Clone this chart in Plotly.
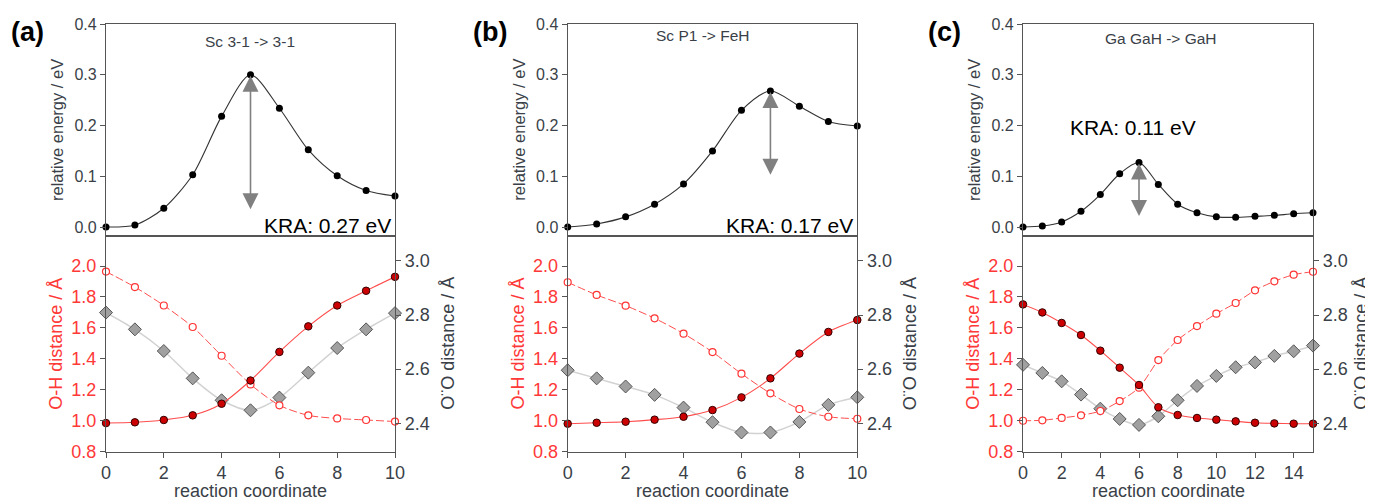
import plotly.graph_objects as go

# ---------------- data ----------------
panel_labels = ["(a)", "(b)", "(c)"]
panel_titles = ["Sc 3-1 -> 3-1", "Sc P1 -> FeH", "Ga GaH -> GaH"]
kra_values = [0.27, 0.17, 0.11]
kra_texts = ["KRA: 0.27 eV", "KRA: 0.17 eV", "KRA: 0.11 eV"]

coord_a = list(range(11))
coord_b = list(range(11))
coord_c = list(range(16))

energy_a = [0.0, 0.004, 0.037, 0.103, 0.218, 0.300, 0.234, 0.152, 0.101, 0.072, 0.061]
energy_b = [0.0, 0.006, 0.020, 0.045, 0.085, 0.150, 0.230, 0.268, 0.238, 0.208, 0.199]
energy_c = [0.0, 0.002, 0.010, 0.031, 0.064, 0.105, 0.127, 0.084, 0.045, 0.028,
            0.020, 0.019, 0.021, 0.023, 0.026, 0.028]

oh1_a = [0.985, 0.99, 1.005, 1.035, 1.11, 1.26, 1.445, 1.61, 1.745, 1.84, 1.93]
oh2_a = [1.964, 1.864, 1.745, 1.606, 1.42, 1.235, 1.10, 1.035, 1.015, 1.005, 0.995]
oo_a = [2.809, 2.747, 2.667, 2.566, 2.485, 2.448, 2.495, 2.587, 2.678, 2.747, 2.807]

oh1_b = [0.981, 0.987, 0.994, 1.007, 1.026, 1.069, 1.151, 1.274, 1.434, 1.574, 1.651]
oh2_b = [1.895, 1.813, 1.744, 1.662, 1.563, 1.444, 1.304, 1.177, 1.076, 1.026, 1.013]
oo_b = [2.596, 2.566, 2.536, 2.505, 2.458, 2.404, 2.366, 2.366, 2.405, 2.468, 2.496]

oh1_c = [1.752, 1.700, 1.632, 1.554, 1.453, 1.343, 1.231, 1.087, 1.037, 1.018,
         1.007, 0.996, 0.987, 0.983, 0.981, 0.981]
oh2_c = [1.000, 1.003, 1.018, 1.035, 1.063, 1.127, 1.214, 1.392, 1.522, 1.612,
         1.692, 1.761, 1.843, 1.901, 1.944, 1.963]
oo_c = [2.616, 2.586, 2.555, 2.506, 2.454, 2.416, 2.394, 2.426, 2.485, 2.538,
        2.575, 2.607, 2.625, 2.649, 2.666, 2.687]

coords = [coord_a, coord_b, coord_c]
energies = [energy_a, energy_b, energy_c]
oh1s = [oh1_a, oh1_b, oh1_c]
oh2s = [oh2_a, oh2_b, oh2_c]
oos = [oo_a, oo_b, oo_c]
x_max = [10, 10, 15]

# ---------------- layout geometry (pixels of the 1373x502 window) ----------------
OFF = 8                      # default page body margin
W, H = 1373 - OFF, 502 - OFF
left_px = [106, 567.7, 1023]
right_px = [395, 857.3, 1313]
top_px, mid_px, bot_px = 24, 236, 451.7

def px_x(p):
    return (p - OFF) / W

def px_y(p):
    return 1 - (p - OFF) / H

FONT = "Liberation Sans, Arial, sans-serif"
AXC = "#555555"
TXT = "#3a3f48"
RED = "#ff3838"

fig = go.Figure()
layout = dict(
    width=W, height=H,
    margin=dict(l=0, r=0, t=0, b=0, pad=0, autoexpand=False),
    paper_bgcolor="white", plot_bgcolor="white",
    showlegend=False,
    font=dict(family=FONT, color=TXT),
)
annotations = []

for i in range(3):
    xt, xb = 2 * i + 1, 2 * i + 2
    yt, yoo, yoh = 3 * i + 1, 3 * i + 2, 3 * i + 3
    dom_x = [px_x(left_px[i]), px_x(right_px[i])]

    common_x = dict(domain=dom_x, range=[0, x_max[i]], showline=True, linecolor=AXC,
                    linewidth=1.3, mirror=True, showgrid=False, zeroline=False,
                    automargin=False)
    layout[f"xaxis{xt}"] = dict(common_x, anchor=f"y{yt}", showticklabels=False, ticks="")
    layout[f"xaxis{xb}"] = dict(common_x, anchor=f"y{yoo}", ticks="outside", ticklen=5,
                                tickcolor=AXC, dtick=2, tick0=0,
                                tickfont=dict(size=18, color=TXT, family=FONT))
    layout[f"yaxis{yt}"] = dict(domain=[px_y(mid_px), px_y(top_px)], anchor=f"x{xt}",
                                range=[-0.0177, 0.4], dtick=0.1, tickformat=".1f",
                                showline=True, linecolor=AXC, linewidth=1.3, mirror=True,
                                ticks="outside", ticklen=5, tickcolor=AXC,
                                showgrid=False, zeroline=False, automargin=False,
                                tickfont=dict(size=16, color=TXT, family=FONT))
    layout[f"yaxis{yoo}"] = dict(domain=[px_y(bot_px), px_y(mid_px)], anchor=f"x{xb}",
                                 side="right", range=[2.295, 3.092], dtick=0.2, tick0=2.4,
                                 tickformat=".1f", showline=True, linecolor=AXC, linewidth=1.3,
                                 ticks="outside", ticklen=5, tickcolor=AXC,
                                 showgrid=False, zeroline=False, automargin=False,
                                 tickfont=dict(size=18, color=TXT, family=FONT))
    layout[f"yaxis{yoh}"] = dict(overlaying=f"y{yoo}", anchor=f"x{xb}", side="left",
                                 range=[0.8, 2.194], dtick=0.2, tick0=0.8, tickformat=".1f",
                                 showline=True, linecolor=AXC, linewidth=1.3,
                                 ticks="outside", ticklen=5, tickcolor=AXC,
                                 showgrid=False, zeroline=False, automargin=False,
                                 tickfont=dict(size=18, color=RED, family=FONT))

    x = coords[i]
    # energy profile
    fig.add_trace(go.Scatter(x=x, y=energies[i], xaxis=f"x{xt}", yaxis=f"y{yt}",
                             mode="lines+markers", cliponaxis=False,
                             line=dict(color="#333333", width=1.1, shape="spline", smoothing=0.8),
                             marker=dict(size=7, color="black")))
    # O-O distance (gray diamonds)
    fig.add_trace(go.Scatter(x=x, y=oos[i], xaxis=f"x{xb}", yaxis=f"y{yoo}",
                             mode="lines+markers", cliponaxis=False,
                             line=dict(color="#d2d2d2", width=1.5, shape="spline", smoothing=0.8),
                             marker=dict(symbol="diamond", size=10, color="#a0a0a0",
                                         line=dict(color="#555555", width=1))))
    # O-H distance, open circles dashed
    fig.add_trace(go.Scatter(x=x, y=oh2s[i], xaxis=f"x{xb}", yaxis=f"y{yoh}",
                             mode="lines+markers", cliponaxis=False,
                             line=dict(color="#ff4d4d", width=1, dash="8px,3px",
                                       shape="spline", smoothing=0.8),
                             marker=dict(size=7, color="white",
                                         line=dict(color="#ff3333", width=1.2))))
    # O-H distance, filled circles
    fig.add_trace(go.Scatter(x=x, y=oh1s[i], xaxis=f"x{xb}", yaxis=f"y{yoh}",
                             mode="lines+markers", cliponaxis=False,
                             line=dict(color="#ff4d4d", width=1.1, shape="spline", smoothing=0.8),
                             marker=dict(size=7.5, color="#cc0000",
                                         line=dict(color="#330000", width=1))))

    # KRA double arrow from the peak downwards
    e = energies[i]
    peak_idx = max(range(len(e)), key=lambda k: e[k])
    peak_x, peak_y = x[peak_idx], e[peak_idx]
    low_y = peak_y - kra_values[i]
    annotations.append(dict(x=peak_x, y=peak_y, ax=peak_x, ay=low_y,
                            xref=f"x{xt}", yref=f"y{yt}", axref=f"x{xt}", ayref=f"y{yt}",
                            showarrow=True, arrowhead=2, arrowside="end+start",
                            arrowsize=2.0, arrowwidth=1.6, arrowcolor="#808080",
                            standoff=1, startstandoff=1, text=""))

    # panel letter
    annotations.append(dict(text=f"<b>{panel_labels[i]}</b>", xref="paper", yref="paper",
                            x=px_x(left_px[i] - 97), y=px_y(32), xanchor="left", yanchor="middle",
                            showarrow=False, font=dict(size=27, color="black", family=FONT)))
    # panel title
    title_cx = [250, 702, 1161][i]
    title_cy = [42, 36, 38][i]
    annotations.append(dict(text=panel_titles[i], xref="paper", yref="paper",
                            x=px_x(title_cx), y=px_y(title_cy), xanchor="center", yanchor="middle",
                            showarrow=False, font=dict(size=15.5, color=TXT, family=FONT)))
    # KRA label
    if i < 2:
        annotations.append(dict(text=kra_texts[i], xref="paper", yref="paper",
                                x=px_x(right_px[i] - 2), y=px_y(225), xanchor="right",
                                yanchor="middle", showarrow=False,
                                font=dict(size=21, color="black", family=FONT)))
    else:
        annotations.append(dict(text=kra_texts[i], xref="paper", yref="paper",
                                x=px_x(1133), y=px_y(127), xanchor="center",
                                yanchor="middle", showarrow=False,
                                font=dict(size=21, color="black", family=FONT)))
    # axis titles
    annotations.append(dict(text="relative energy / eV", xref="paper", yref="paper",
                            x=px_x(left_px[i] - 49), y=px_y((top_px + mid_px) / 2),
                            textangle=-90, showarrow=False, xanchor="center", yanchor="middle",
                            font=dict(size=16.5, color=TXT, family=FONT)))
    annotations.append(dict(text="O-H distance / Å", xref="paper", yref="paper",
                            x=px_x(left_px[i] - 50), y=px_y((mid_px + bot_px) / 2),
                            textangle=-90, showarrow=False, xanchor="center", yanchor="middle",
                            font=dict(size=18, color=RED, family=FONT)))
    annotations.append(dict(text="O¨O distance / Å", xref="paper", yref="paper",
                            x=px_x(min(right_px[i] + 53, 1361)), y=px_y((mid_px + bot_px) / 2),
                            textangle=-90, showarrow=False, xanchor="center", yanchor="middle",
                            font=dict(size=18, color=TXT, family=FONT)))
    annotations.append(dict(text="reaction coordinate", xref="paper", yref="paper",
                            x=px_x((left_px[i] + right_px[i]) / 2), y=px_y(491),
                            showarrow=False, xanchor="center", yanchor="middle",
                            font=dict(size=18, color=TXT, family=FONT)))

layout["annotations"] = annotations
fig.update_layout(**layout)
fig.write_html("out.html")
